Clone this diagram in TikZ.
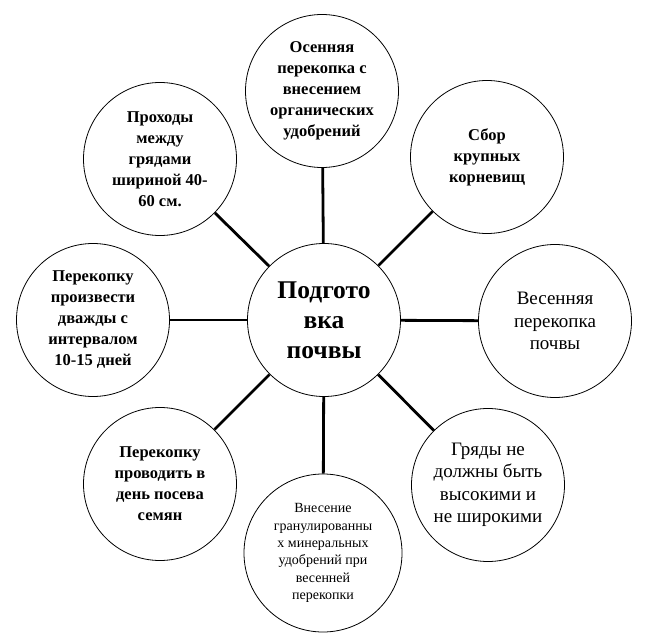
\documentclass[tikz,border=0pt]{standalone}
\usepackage{fontspec}
\setmainfont{Liberation Serif}
\begin{document}
\begin{tikzpicture}[x=1pt, y=-1pt]
    \tikzstyle{item}=[circle, draw, line width=0.8pt, minimum size=153pt, inner sep=0pt, align=center, font=\fontsize{16.5}{21}\selectfont\bfseries]
    \tikzstyle{plain}=[font=\fontsize{19}{22.5}\selectfont]
    \tikzstyle{small}=[font=\fontsize{14}{17.3}\selectfont]
    \tikzstyle{hub}=[font=\fontsize{25.5}{30}\selectfont\bfseries]
    \tikzstyle{link}=[line width=2.8pt]

    \useasboundingbox (0,0) rectangle (648,644);

    \node[item, hub] (soil) at (324,320) {Подгото\\вка\\почвы};
    \node[item] (autumn) at (322,91) {Осенняя\\перекопка с\\внесением\\органических\\удобрений};
    \node[item] (roots) at (487,157) {Сбор\\крупных\\корневищ};
    \node[item, plain] (spring) at (555,321) {Весенняя\\перекопка\\почвы};
    \node[item, plain] (beds) at (488,485) {Гряды не\\должны быть\\высокими и\\не широкими};
    \node[item, small, minimum size=158pt] (fert) at (323,553) {Внесение\\гранулированны\\х минеральных\\удобрений при\\весенней\\перекопки};
    \node[item] (sowing) at (160,484) {Перекопку\\проводить в\\день посева\\семян};
    \node[item] (twice) at (93,320) {Перекопку\\произвести\\дважды с\\интервалом\\10-15 дней};
    \node[item] (paths) at (160,159) {Проходы\\между\\грядами\\шириной 40-\\60 см.};

    \path (soil) edge[link] (autumn);
    \path (soil) edge[link] (roots);
    \path (soil) edge[link] (spring);
    \path (soil) edge[link] (beds);
    \path (soil) edge[link] (fert);
    \path (soil) edge[link] (sowing);
    \path (soil) edge[link] (twice);
    \path (soil) edge[link] (paths);
\end{tikzpicture}
\end{document}
